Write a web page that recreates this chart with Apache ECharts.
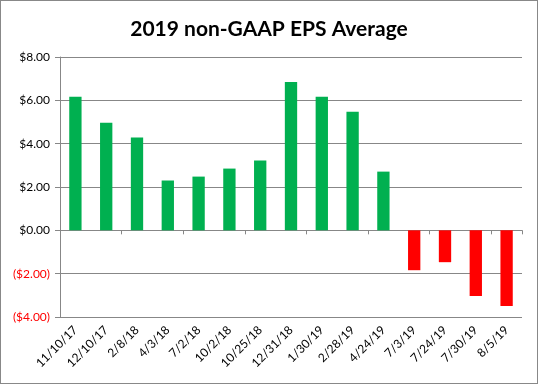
<!DOCTYPE html>
<html>
<head>
<meta charset="utf-8">
<script src="https://cdn.jsdelivr.net/npm/echarts@6/dist/echarts.min.js"></script>
<style>
html,body{margin:0;padding:0;background:#fff;}
#wrap{position:absolute;left:0;top:0;width:536px;height:382px;border:1px solid #888;}
#chart{width:536px;height:382px;}
</style>
</head>
<body>
<div id="wrap"><div id="chart"></div></div>
<script>
const categories = ['11/10/17','12/10/17','2/8/18','4/3/18','7/2/18','10/2/18','10/25/18','12/31/18','1/30/19','2/28/19','4/24/19','7/3/19','7/24/19','7/30/19','8/5/19'];
const epsValues = [6.16, 4.97, 4.28, 2.30, 2.48, 2.85, 3.22, 6.85, 6.16, 5.47, 2.71, -1.84, -1.47, -3.03, -3.49];
const yTicks = {min: -4, max: 8, interval: 2};

const FONT = 'Lato, "Open Sans", sans-serif';
const GRID_COLOR = '#878787';
const chart = echarts.init(document.getElementById('chart'));
chart.setOption({
  animation: false,
  title: {
    text: '2019 non-GAAP EPS Average',
    left: 'center', top: 13,
    textStyle: {fontFamily: FONT, fontSize: 21, fontWeight: 'bold', color: '#000'}
  },
  grid: {left: 59, right: 15, top: 56, bottom: 66},
  xAxis: [
    {
      type: 'category', data: categories, position: 'top',
      axisLine: {onZero: true, lineStyle: {color: GRID_COLOR, width: 1}},
      axisTick: {show: true, inside: true, length: 4, lineStyle: {color: GRID_COLOR}},
      axisLabel: {show: false}, splitLine: {show: false}
    },
    {
      type: 'category', data: categories, position: 'bottom',
      axisLine: {show: false, onZero: false}, axisTick: {show: false},
      axisLabel: {rotate: 45, margin: 11, fontFamily: FONT, fontSize: 12, color: '#000', interval: 0}
    }
  ],
  yAxis: {
    type: 'value', min: yTicks.min, max: yTicks.max, interval: yTicks.interval,
    axisLine: {show: true, lineStyle: {color: GRID_COLOR}},
    axisTick: {show: true, length: 5, lineStyle: {color: GRID_COLOR}},
    splitLine: {show: true, lineStyle: {color: GRID_COLOR, width: 1}},
    axisLabel: {
      margin: 10, fontFamily: FONT, fontSize: 12, color: '#000',
      formatter: function (v) {
        if (v < 0) return '{neg|($' + Math.abs(v).toFixed(2) + ')}';
        return '$' + v.toFixed(2);
      },
      rich: {neg: {color: '#ff0000', fontFamily: FONT, fontSize: 12}}
    }
  },
  series: [{
    type: 'bar', xAxisIndex: 1, data: epsValues, barWidth: '40%',
    itemStyle: {color: function (p) { return p.value < 0 ? '#ff0000' : '#00b050'; }}
  }]
});
</script>
</body>
</html>
